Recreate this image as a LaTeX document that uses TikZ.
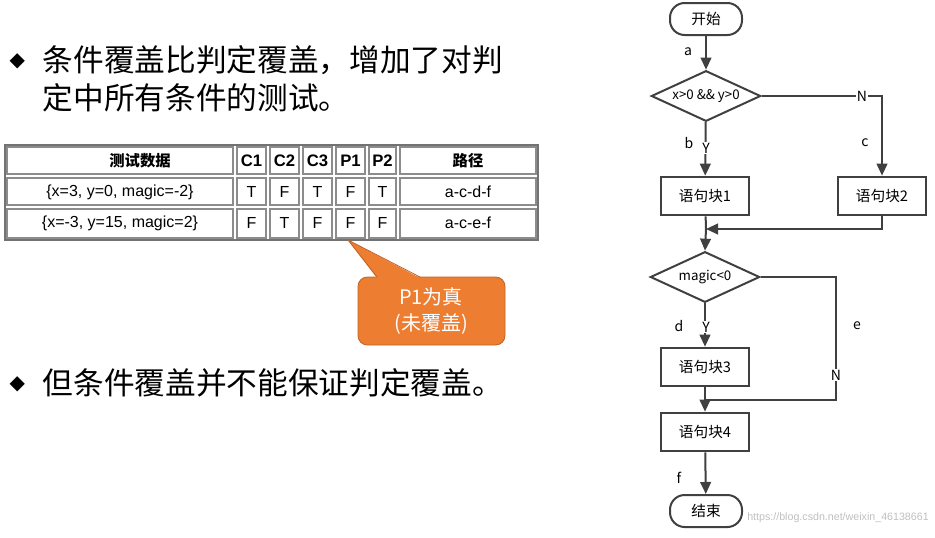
\documentclass[tikz,border=0pt]{standalone}
\usepackage{fontspec}
\setmainfont{Noto Sans CJK SC}
\newfontfamily\dvs{DejaVu Sans}
\newfontfamily\arl{Liberation Sans}
\usetikzlibrary{shapes.geometric,arrows.meta}
\definecolor{org}{RGB}{237,125,49}
\begin{document}
\begin{tikzpicture}[x=0.75pt,y=-0.75pt,
 box/.style={draw=black!75,line width=1.5pt,minimum width=66pt,minimum height=29pt,font=\fontsize{11}{13}\selectfont},
 term/.style={box,rounded corners=11pt,minimum width=54pt,minimum height=24pt},
 dia/.style={draw=black!75,line width=1.5pt,diamond,aspect=2.2,inner sep=0pt,minimum width=82pt,minimum height=38pt,font=\fontsize{10}{11}\selectfont},
 ln/.style={draw=black!75,line width=1.5pt},
 ar/.style={ln,-{Triangle[length=9pt,width=8pt]}},
 lab/.style={font=\fontsize{10.5}{12}\selectfont},
 cell/.style={font=\arl\fontsize{12}{14}\selectfont},
 big/.style={font=\fontsize{23}{27}\selectfont,anchor=west}]
\useasboundingbox (0,0) rectangle (935,537);
% bullets
\node[anchor=west,font=\dvs\fontsize{15}{18}\selectfont] (b1) at (5,61) {◆};
\node[big] (t1) at (38,60) {条件覆盖比判定覆盖，增加了对判};
\node[big] (t2) at (38,98) {定中所有条件的测试。};
\node[anchor=west,font=\dvs\fontsize{15}{18}\selectfont] (b2) at (5,384) {◆};
\node[big] (t3) at (38,383) {但条件覆盖并不能保证判定覆盖。};
% table
\draw[black!55,line width=1pt] (5,145) rectangle (538,240);
\foreach \xa/\xb in {5/235,235/268,268/301,301/334,334/367,367/398,398/538}
 \foreach \ya/\yb in {145/176,176/207,207/240}
  \draw[black!45,line width=0.8pt] (\xa+2,\ya+2) rectangle (\xb-2,\yb-2);
\node[cell,font=\fontsize{11.5}{13}\selectfont\bfseries] (h0) at (140,161) {测试数据};
\foreach \x/\t/\n in {251.5/C1/h1,284.5/C2/h2,317.5/C3/h3,350.5/P1/h4,382.5/P2/h5}
 \node[cell,font=\arl\bfseries\fontsize{12.5}{14}\selectfont] (\n) at (\x,161) {\t};
\node[cell,font=\bfseries\fontsize{11.5}{13}\selectfont] (h6) at (468,161) {路径};
\node[cell] (r10) at (120,192) {\{x=3, y=0, magic=-2\}};
\node[cell] (r20) at (120,223) {\{x=-3, y=15, magic=2\}};
\foreach \x/\a/\b/\n in {251.5/T/F/1,284.5/F/T/2,317.5/T/F/3,350.5/F/F/4,382.5/T/F/5}{
 \node[cell] (r1\n) at (\x,192) {\a};
 \node[cell] (r2\n) at (\x,223) {\b};}
\node[cell] (r16) at (468,192) {a-c-d-f};
\node[cell] (r26) at (468,223) {a-c-e-f};
% callout
\fill[org,draw=org!80!black,line width=0.6pt,rounded corners=7pt] (358,277) rectangle (505,345);
\fill[org] (348,240) -- (420,278) -- (377,278) -- cycle;
\draw[org!80!black,line width=0.6pt] (377,277) -- (348,240) -- (420,277);
\node[white,align=center,font=\fontsize{15}{19}\selectfont] (co) at (431,311) {P1为真\\(未覆盖)};
% flowchart
\node[term] (s) at (706,19) {开始};
\node[dia] (d1) at (706,96) {x>0 \&\& y>0};
\node[box] (p1) at (705,196) {语句块1};
\node[box] (p2) at (882,196) {语句块2};
\node[dia] (d2) at (705,277) {magic<0};
\node[box] (p3) at (705,367) {语句块3};
\node[box] (p4) at (705,432) {语句块4};
\node[term] (e) at (706,511) {结束};
\coordinate (m1) at (706,229);
\coordinate (m2) at (706,400);
\draw[ar] (s) -- (d1);
\draw[ar] (d1) -- (p1);
\draw[ar] (d1.east) -- (p2.north |- d1.east) -- (p2.north);
\draw[ln] (p1) -- (m1);
\draw[ar] (p2.south) |- (m1);
\draw[ar] (m1) -- (d2.north);
\draw[ar] (d2) -- (p3);
\draw[ln] (d2.east) -- (836,277) -- (836,400) -- (m2);
\draw[ar] (p3) -- (p4);
\draw[ar] (p4) -- (e);
\node[lab] (la) at (688,52) {a};
\node[lab] (lb) at (689,143) {b};
\node[lab,fill=white,inner sep=1pt] (ly1) at (706,148) {Y};
\node[lab,fill=white,inner sep=1pt] (ln1) at (862,96) {N};
\node[lab] (lc) at (865,143) {c};
\node[lab] (ld) at (679,326) {d};
\node[lab,fill=white,inner sep=1pt] (ly2) at (706,327) {Y};
\node[lab] (le) at (857,326) {e};
\node[lab,fill=white,inner sep=1pt] (ln2) at (836,375) {N};
\node[lab] (lf) at (679,478) {f};
\node[text=black!25,anchor=west,inner sep=0pt,font=\arl\fontsize{8}{10}\selectfont] (wm) at (747,518) {https://blog.csdn.net/weixin\_46138661};
\end{tikzpicture}
\end{document}
